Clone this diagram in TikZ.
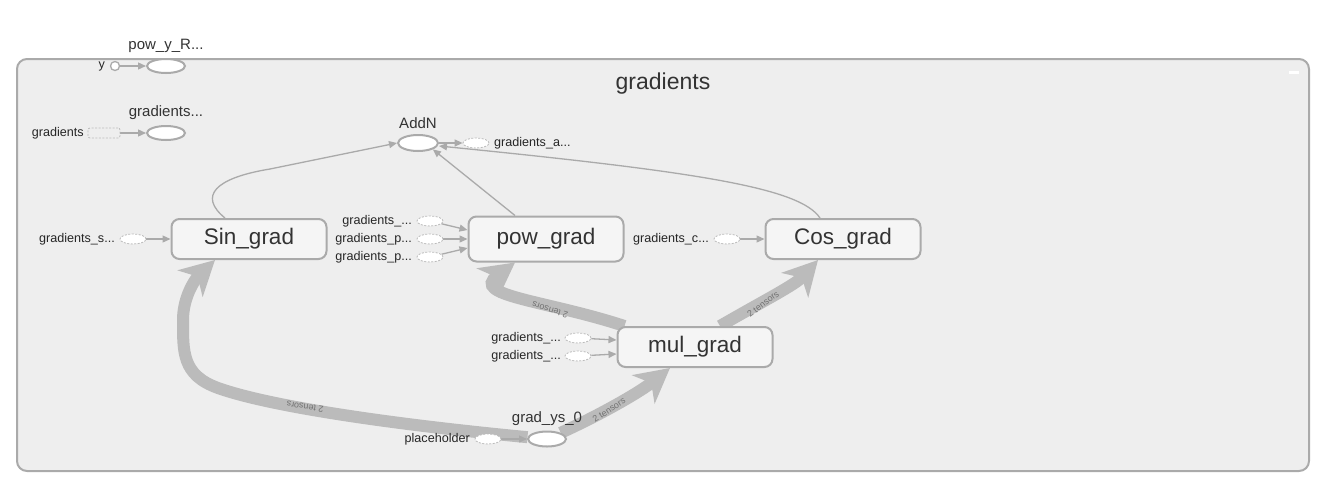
\documentclass[tikz,border=0pt]{standalone}
\usepackage{fontspec}
\setmainfont{Liberation Sans}
\usetikzlibrary{shapes.geometric,arrows.meta}
\definecolor{bgfill}{HTML}{EEEEEE}
\definecolor{edgecol}{HTML}{AAAAAA}
\definecolor{fatcol}{HTML}{BBBBBB}
\definecolor{txtcol}{HTML}{333333}
\pgfdeclarelayer{back}
\pgfdeclarelayer{wires}
\pgfsetlayers{back,wires,main}
\begin{document}
\begin{tikzpicture}[x=1pt, y=-1pt,
  opbox/.style={draw=edgecol, line width=2pt, fill=bgfill!60!white, rounded corners=8pt,
    minimum width=155pt, minimum height=40pt, inner sep=0pt, text=txtcol,
    font=\fontsize{22.5}{24}\selectfont},
  opoval/.style={ellipse, draw=edgecol, line width=2pt, fill=white, inner sep=0pt,
    minimum width=38pt, minimum height=14pt},
  inoval/.style={ellipse, draw=fatcol, line width=0.8pt, dash pattern=on 2pt off 1.5pt,
    fill=white, inner sep=0pt, minimum width=26pt, minimum height=10pt},
  oplbl/.style={text=txtcol, font=\fontsize{15}{16}\selectfont},
  smalllbl/.style={text=black!85, font=\fontsize{12.6}{13}\selectfont, inner sep=0pt},
  thin/.style={draw=edgecol, line width=1.3pt, -{Triangle[length=8pt,width=7pt]}},
  fatedge/.style={draw=fatcol, line width=12pt, -{Stealth[length=34pt,width=36pt,inset=10pt]}},
  tens/.style={text=black!55, font=\fontsize{9}{9}\selectfont, inner sep=0pt}]
\useasboundingbox (0,0) rectangle (1340,491);
% group
\begin{pgfonlayer}{back}
\node[draw=edgecol, line width=2pt, fill=bgfill, rounded corners=10pt, minimum width=1292pt,
  minimum height=412pt, inner sep=0pt] (grp) at (663,265) {};
\end{pgfonlayer}
\node[text=txtcol, font=\fontsize{23}{24}\selectfont] (grptitle) at (663,84) {gradients};
\node[fill=white, minimum width=10pt, minimum height=3pt, inner sep=0pt] (collapse) at (1294,72) {};
% ops
\node[opbox] (sin) at (249,239) {Sin\_grad};
\node[opbox, minimum height=45pt] (pow) at (546,239) {pow\_grad};
\node[opbox] (cos) at (843,239) {Cos\_grad};
\node[opbox] (mul) at (695,347) {mul\_grad};
\node[opoval] (powy) at (166,66) {};
\node[oplbl] (powylbl) at (166,46) {pow\_y\_R...};
\node[opoval] (gradsop) at (166,133) {};
\node[oplbl] (gradsoplbl) at (166,113) {gradients...};
\node[opoval, minimum width=40pt, minimum height=16pt] (addn) at (418,143) {};
\node[oplbl] (addnlbl) at (418,123) {AddN};
\node[opoval, minimum height=15pt] (ys) at (547,439) {};
\node[oplbl] (yslbl) at (547,419) {grad\_ys\_0};
% small inputs
\node[circle, draw=edgecol, line width=1.3pt, fill=white, minimum size=9pt, inner sep=0pt] (y) at (115,66) {};
\node[smalllbl, anchor=east] (ylbl) at (105,66) {y};
\node[draw=fatcol, line width=0.8pt, dash pattern=on 2pt off 1.5pt, rounded corners=2pt,
  minimum width=32pt, minimum height=10pt, inner sep=0pt] (grads) at (104,133) {};
\node[smalllbl, anchor=east] (gradslbl) at (84,133) {gradients};
\node[inoval] (ga) at (476,143) {};
\node[smalllbl, anchor=west] (galbl) at (494,143) {gradients\_a...};
\node[inoval] (gs) at (133,239) {};
\node[smalllbl, anchor=east] (gslbl) at (115,239) {gradients\_s...};
\node[inoval] (gp1) at (430,221) {};
\node[inoval] (gp2) at (430,239) {};
\node[inoval] (gp3) at (430,257) {};
\node[smalllbl, anchor=east] (gp1lbl) at (412,221) {gradients\_...};
\node[smalllbl, anchor=east] (gp2lbl) at (412,239) {gradients\_p...};
\node[smalllbl, anchor=east] (gp3lbl) at (412,257) {gradients\_p...};
\node[inoval] (gc) at (727,239) {};
\node[smalllbl, anchor=east] (gclbl) at (709,239) {gradients\_c...};
\node[inoval] (gm1) at (578,338) {};
\node[inoval] (gm2) at (578,356) {};
\node[smalllbl, anchor=east] (gm1lbl) at (561,338) {gradients\_...};
\node[smalllbl, anchor=east] (gm2lbl) at (561,356) {gradients\_...};
\node[inoval] (ph) at (488,439) {};
\node[smalllbl, anchor=east] (phlbl) at (470,439) {placeholder};
% edges
\begin{pgfonlayer}{wires}
\draw[fatedge] (ys) .. controls (430,428) and (280,410) .. (218,388)
  .. controls (182,375) and (183,352) .. (183,320)
  .. controls (183,296) and (196,278) .. ([xshift=-34pt]sin.south);
\draw[fatedge] (ys) .. controls (600,415) and (640,392) .. ([xshift=-25pt]mul.south);
\draw[fatedge] ([xshift=8pt]mul.north west) .. controls (545,300) and (470,296) .. ([xshift=-31pt]pow.south);
\draw[fatedge] ([xshift=25pt]mul.north) .. controls (765,300) and (795,285) .. ([xshift=-25pt]cos.south);
\draw[thin] ([xshift=-24pt]sin.north) .. controls (198,196) and (215,178) .. (270,169) -- (addn.west);
\draw[thin] ([xshift=-31pt]pow.north) -- (addn.south east);
\draw[thin] ([xshift=-23pt]cos.north) .. controls (800,188) and (700,172) .. ([yshift=-3pt]addn.east);
\draw[thin] (addn) -- (ga);
\draw[thin] (y) -- (powy);
\draw[thin] (grads) -- (gradsop);
\draw[thin] (gs) -- (sin);
\draw[thin] (gp1) -- ([yshift=9pt]pow.west);
\draw[thin] (gp2) -- (pow.west);
\draw[thin] (gp3) -- ([yshift=-9pt]pow.west);
\draw[thin] (gc) -- (cos);
\draw[thin] (gm1) -- ([yshift=7pt]mul.west);
\draw[thin] (gm2) -- ([yshift=-7pt]mul.west);
\draw[thin] (ph) -- (ys);
\end{pgfonlayer}
\node[tens, rotate=172] (t1) at (305,407) {2 tensors};
\node[tens, rotate=33] (t2) at (609,410) {2 tensors};
\node[tens, rotate=163] (t3) at (550,310) {2 tensors};
\node[tens, rotate=37] (t4) at (763,304) {2 tensors};
\end{tikzpicture}
\end{document}
